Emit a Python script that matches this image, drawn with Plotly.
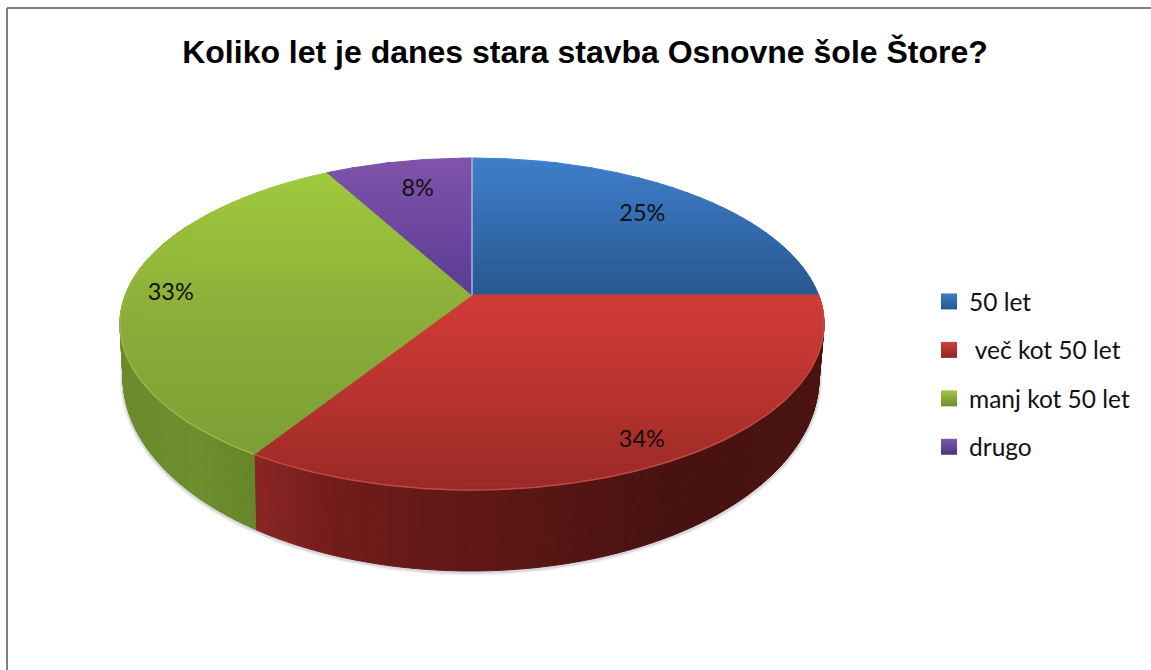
import numpy as np
import plotly.graph_objects as go

# ---- chart data ----
categories = ["50 let", "\u00a0več kot 50 let", "manj kot 50 let", "drugo"]
values = [25, 34, 33, 8]
value_labels = ["25%", "34%", "33%", "8%"]
title_text = "Koliko let je danes stara stavba Osnovne šole Štore?"

# ---- styling: gradient stops as (canvas y, colour) ----
top_stops = [
    [(158, "#3f7fcc"), (295, "#28588f")],
    [(295, "#cf3b37"), (360, "#c23632"), (490, "#9a2a27")],
    [(175, "#9fc93c"), (320, "#8bad3a"), (455, "#7c9f36")],
    [(158, "#8053aa"), (295, "#5c3c94")],
]
legend_top = ["#3f7fc6", "#cf4240", "#a4c84a", "#7f58ac"]
legend_bottom = ["#24568f", "#8e2422", "#6d8c2c", "#4f3180"]
wall_stops = {
    1: [(255, "#8b2624"), (340, "#701c1a"), (500, "#5c1715"), (680, "#471210"), (825, "#4a1311")],
    2: [(120, "#6a8b2c"), (200, "#6d8e2d"), (257, "#64862a")],
}
rim_colours = {1: "#bd4a44", 2: "#98b64a"}
label_radius = [0.78, 0.88, 0.874, 0.765]
label_nudge_x = [-4, 0, 0, 4]
label_nudge_y = [1, 3, 4, 1]

# ---- pie geometry on a 1151x670 canvas ----
W, H = 1151, 670
CX, CY, RX, RY = 472, 324, 352, 166      # top face ellipse
BX, BY, BRX, BRY = 471, 378, 348, 193    # bottom rim ellipse
TILT = 0.175                             # perspective offset of the apex


def project(r, ang, cx, cy, rx, ry):
    """Perspective projection of a polar point; angle clockwise from 12 o'clock."""
    X, Y = r * np.sin(ang), r * np.cos(ang)
    d = 1 + TILT * Y
    return cx + rx * X * np.sqrt(1 - TILT ** 2) / d, cy - ry * (Y + TILT) / d


def hex_rgb(c):
    return np.array([int(c[i:i + 2], 16) for i in (1, 3, 5)], float)


def ramp(stops, v):
    ps = [s[0] for s in stops]
    cs = np.array([hex_rgb(s[1]) for s in stops])
    rgb = [np.interp(v, ps, cs[:, k]) for k in range(3)]
    return "rgb(%d,%d,%d)" % tuple(round(c) for c in rgb)


def clip_y(poly, y0, y1):
    def half(points, keep, cross):
        out = []
        for i, p in enumerate(points):
            q = points[(i + 1) % len(points)]
            if keep(p):
                out.append(p)
            if keep(p) != keep(q):
                t = (cross - p[1]) / (q[1] - p[1])
                out.append((p[0] + t * (q[0] - p[0]), cross))
        return out
    res = half(poly, lambda p: p[1] >= y0, y0)
    return half(res, lambda p: p[1] <= y1, y1) if res else res


fig = go.Figure()


def patch(xs, ys, colour):
    fig.add_trace(go.Scatter(
        x=list(xs) + [xs[0]], y=list(ys) + [ys[0]], mode="lines", fill="toself",
        fillcolor=colour, line=dict(color=colour, width=1),
        hoverinfo="skip", showlegend=False))


fractions = np.cumsum([0] + values) / sum(values)
edges = fractions * 2 * np.pi

# soft shadow under the bottom rim
ang = np.linspace(1.2, 2 * np.pi - 1.2, 200)
for width, alpha in ((7, 0.10), (4, 0.18)):
    sx, sy = project(1, ang, BX, BY + 1, BRX, BRY)
    fig.add_trace(go.Scatter(x=sx, y=sy, mode="lines",
                             line=dict(color=f"rgba(110,110,130,{alpha})", width=width),
                             hoverinfo="skip", showlegend=False))

# side walls of the slices that face the viewer
for i, stops in wall_stops.items():
    a0, a1 = edges[i], min(edges[i + 1], 5.2)
    n = max(2, int((a1 - a0) / 0.02))
    grid = np.linspace(a0, a1, n + 1)
    for u, v in zip(grid[:-1], grid[1:]):
        tx, ty = project(1, np.array([u, v]), CX, CY, RX, RY)
        bx, by = project(1, np.array([v, u]), BX, BY, BRX, BRY)
        patch(np.r_[tx, bx], np.r_[ty, by], ramp(stops, (tx[0] + tx[1]) / 2))

# top faces, painted in horizontal gradient bands
for i, stops in enumerate(top_stops):
    arc = np.linspace(edges[i], edges[i + 1], 160)
    ax, ay = project(1, arc, CX, CY, RX, RY)
    ox, oy = project(0, 0.0, CX, CY, RX, RY)
    poly = [(float(ox), float(oy))] + list(zip(ax.tolist(), ay.tolist()))
    ys = [p[1] for p in poly]
    bands = np.arange(min(ys), max(ys) + 5, 5)
    for y0, y1 in zip(bands[:-1], bands[1:]):
        piece = clip_y(poly, y0, y1)
        if len(piece) >= 3:
            patch([p[0] for p in piece], [p[1] for p in piece], ramp(stops, (y0 + y1) / 2))

# light rim along the front edge
for i, c in rim_colours.items():
    arc = np.linspace(edges[i], min(edges[i + 1], 4.95), 120)
    rx_, ry_ = project(1, arc, CX, CY, RX, RY)
    fig.add_trace(go.Scatter(x=rx_, y=ry_, mode="lines", line=dict(color=c, width=1.5),
                             hoverinfo="skip", showlegend=False))

# pale seam between the last and first slice
sx, sy = project(np.array([0, 1]), np.array([0.0, 0.0]), CX, CY, RX, RY)
fig.add_trace(go.Scatter(x=sx, y=sy, mode="lines", line=dict(color="#a9b8e0", width=1.5),
                         hoverinfo="skip", showlegend=False))

# value labels
mid = (edges[:-1] + edges[1:]) / 2
lx, ly = project(np.array(label_radius), mid, CX, CY, RX, RY)
fig.add_trace(go.Scatter(x=lx + np.array(label_nudge_x), y=ly + np.array(label_nudge_y),
                         mode="text", text=value_labels,
                         textfont=dict(family="Lato", size=23.5, color="#111111"),
                         hoverinfo="skip", showlegend=False))

# legend entries
for i, name in enumerate(categories):
    fig.add_trace(go.Scatter(
        x=[None], y=[None], mode="markers", name=name, legendgroup=f"g{i}",
        marker=dict(symbol="square", size=16, color=legend_top[i],
                    gradient=dict(type="vertical", color=legend_bottom[i]))))

fig.update_layout(
    width=W, height=H, margin=dict(l=0, r=0, t=0, b=0),
    paper_bgcolor="white", plot_bgcolor="white",
    xaxis=dict(range=[0, W], visible=False, fixedrange=True),
    yaxis=dict(range=[H, 0], visible=False, fixedrange=True),
    title=dict(text=f"<b>{title_text}</b>", x=585 / W, xanchor="center",
               y=1 - 52 / H, yanchor="middle",
               font=dict(family="Liberation Sans", size=32, color="black")),
    legend=dict(x=929 / W, y=1 - 279 / H, xanchor="left", yanchor="top",
                font=dict(family="Lato", size=24.5, color="#111111"),
                tracegroupgap=13.6, bgcolor="rgba(0,0,0,0)", itemsizing="trace"),
    shapes=[
        dict(type="line", xref="x", yref="y", x0=7, x1=W, y0=8, y1=8,
             line=dict(color="#808080", width=2)),
        dict(type="line", xref="x", yref="y", x0=7, x1=7, y0=8, y1=H,
             line=dict(color="#808080", width=2)),
    ],
)

fig.write_html("out.html", config={"displayModeBar": False},
               post_script="document.body.style.margin='0';")
